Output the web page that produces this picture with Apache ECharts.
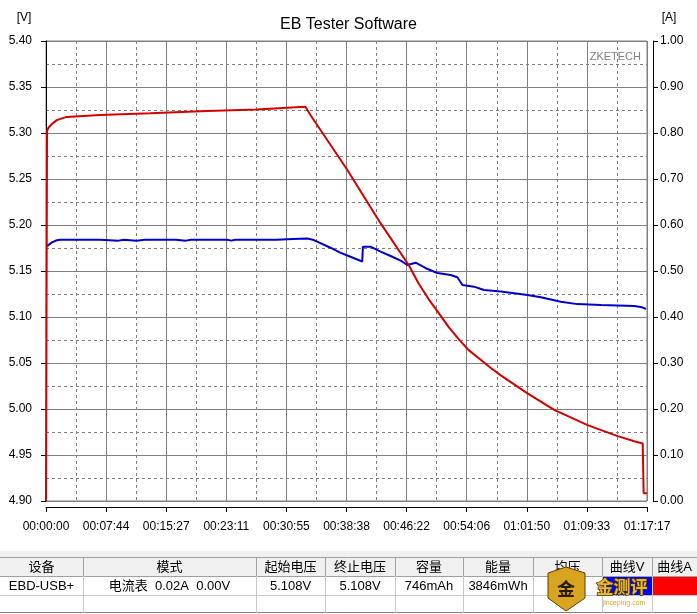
<!DOCTYPE html>
<html><head><meta charset="utf-8">
<script src="https://cdn.jsdelivr.net/npm/echarts@6/dist/echarts.min.js"></script>
<style>html,body{margin:0;padding:0;background:#fff}#c{width:697px;height:614px}</style>
</head><body><div id="c"></div>
<script>
// ---- data ----
const xTickLabels = ['00:00:00','00:07:44','00:15:27','00:23:11','00:30:55','00:38:38','00:46:22','00:54:06','01:01:50','01:09:33','01:17:17'];
const totalSeconds = 4637;
const currentTime = [0, 8, 20, 44, 83, 160, 417, 804, 1242, 1628, 1860, 2002, 2040, 2324, 2581, 2798, 2875, 2952, 3029, 3107, 3184, 3261, 3354, 3432, 3509, 3715, 3921, 4179, 4411, 4539, 4604, 4611, 4637];
const currentA    = [0, 0.805, 0.812, 0.819, 0.828, 0.835, 0.839, 0.843, 0.848, 0.851, 0.855, 0.857, 0.839, 0.720, 0.604, 0.513, 0.473, 0.439, 0.409, 0.378, 0.352, 0.328, 0.307, 0.289, 0.273, 0.234, 0.198, 0.165, 0.141, 0.130, 0.125, 0.017, 0.017];
const voltageTime = [8, 44, 85, 108, 417, 560, 600, 700, 760, 1000, 1080, 1120, 1400, 1430, 1460, 1780, 1860, 1960, 2015, 2060, 2092, 2195, 2270, 2349, 2440, 2445, 2504, 2581, 2659, 2740, 2788, 2852, 2930, 3019, 3122, 3174, 3186, 3213, 3302, 3380, 3509, 3715, 3818, 3972, 4100, 4281, 4539, 4600, 4629];
const voltageV    = [5.177, 5.181, 5.1835, 5.184, 5.184, 5.183, 5.184, 5.183, 5.184, 5.184, 5.183, 5.184, 5.184, 5.183, 5.184, 5.184, 5.1845, 5.185, 5.1853, 5.184, 5.182, 5.1753, 5.170, 5.1655, 5.1603, 5.1764, 5.1764, 5.171, 5.1663, 5.161, 5.1565, 5.159, 5.153, 5.1478, 5.1457, 5.1432, 5.142, 5.1348, 5.133, 5.1293, 5.1277, 5.1239, 5.1214, 5.1166, 5.114, 5.113, 5.112, 5.1105, 5.1087];
const tableHeaders = ['设备','模式','起始电压','终止电压','容量','能量','均压','曲线V','曲线A'];
const tableRow = ['EBD-USB+','电流表  0.02A  0.00V','5.108V','5.108V','746mAh','3846mWh','','',''];
const curveColors = ['', '', '', '', '', '', '', '#0000ff', '#ff0000'];

// ---- chart ----
const xInterval = totalSeconds / 10;
const voltageData = voltageTime.map((t, i) => [t, voltageV[i]]);
const currentData = currentTime.map((t, i) => [t, currentA[i]]);
const tickFont = "'Liberation Sans', Arial, sans-serif";
const gridGray = '#808080';

const colEdges = [0, 83, 256, 325, 395, 463, 533, 602, 652, 697];
const graphics = [];
graphics.push({type:'rect', shape:{x:0,y:551,width:697,height:25}, style:{fill:'#f0f0f0'}, silent:true});
graphics.push({type:'line', shape:{x1:0,y1:557.5,x2:697,y2:557.5}, style:{stroke:'#a0a0a0',lineWidth:1}});
graphics.push({type:'line', shape:{x1:0,y1:576.5,x2:697,y2:576.5}, style:{stroke:'#a0a0a0',lineWidth:1}});
graphics.push({type:'line', shape:{x1:0,y1:595.5,x2:697,y2:595.5}, style:{stroke:'#c8c8c8',lineWidth:1}});
graphics.push({type:'line', shape:{x1:0,y1:612.5,x2:697,y2:612.5}, style:{stroke:'#808080',lineWidth:1}});
for (let i = 0; i < tableHeaders.length; i++) {
  const x0 = colEdges[i], x1 = colEdges[i+1];
  if (curveColors[i]) {
    graphics.push({type:'rect', shape:{x:x0+1,y:577,width:x1-x0-1,height:18}, style:{fill:curveColors[i]}});
  }
  if (i > 0) {
    graphics.push({type:'line', shape:{x1:x0+0.5,y1:557,x2:x0+0.5,y2:576}, style:{stroke:'#a0a0a0',lineWidth:1}});
    graphics.push({type:'line', shape:{x1:x0+0.5,y1:576,x2:x0+0.5,y2:613}, style:{stroke:'#c8c8c8',lineWidth:1}});
  }
  graphics.push({type:'text', x:(x0+x1)/2, y:567, style:{text:tableHeaders[i], fill:'#000', font:"13px 'Liberation Sans', 'Noto Sans CJK SC'", align:'center', verticalAlign:'middle'}});
  if (tableRow[i]) {
    graphics.push({type:'text', x:(x0+x1)/2, y:586, style:{text:tableRow[i], fill:'#000', font:"13px 'Liberation Sans', 'Noto Sans CJK SC'", align:'center', verticalAlign:'middle'}});
  }
}
// watermark approximation
graphics.push({type:'polygon', shape:{points:[[548,573],[566,567],[585,573],[585,598],[566,611],[548,598]]}, style:{fill:'#d9a520', stroke:'#5a3e00', lineWidth:1}});
graphics.push({type:'text', x:566, y:589, style:{text:'金', fill:'#2a1a00', font:"bold 18px 'Noto Sans CJK SC'", align:'center', verticalAlign:'middle'}});
graphics.push({type:'text', x:622, y:587, style:{text:'金测评', fill:'#e8b830', stroke:'#4a3000', lineWidth:1.5, font:"bold 17px 'Noto Sans CJK SC'", align:'center', verticalAlign:'middle'}});
graphics.push({type:'text', x:624, y:603, style:{text:'jinceping.com', fill:'#d9a520', font:"7px 'Liberation Sans'", align:'center', verticalAlign:'middle'}});
// axis unit labels & brand
graphics.push({type:'text', x:24, y:18, style:{text:'[V]', fill:'#000', font:"12px " + tickFont, align:'center', verticalAlign:'middle'}});
graphics.push({type:'text', x:669, y:18, style:{text:'[A]', fill:'#000', font:"12px " + tickFont, align:'center', verticalAlign:'middle'}});
graphics.push({type:'text', x:641, y:57, style:{text:'ZKETECH', fill:'#808080', font:"11px 'Liberation Sans'", align:'right', verticalAlign:'middle'}});

const chart = echarts.init(document.getElementById('c'), null, {renderer:'canvas'});
chart.setOption({
  animation: false,
  backgroundColor: '#fff',
  title: {text:'EB Tester Software', left:'center', top:12, textStyle:{fontSize:16, fontWeight:'normal', color:'#000', fontFamily:"'Liberation Sans', Arial"}},
  grid: {left:46, right:50, top:41, bottom:113, show:true, borderColor:gridGray, borderWidth:1},
  xAxis: {
    type:'value', min:0, max:totalSeconds, interval:xInterval, offset:6,
    axisLine:{show:true, onZero:false, lineStyle:{color:'#000', width:1}},
    axisTick:{show:true, length:5, lineStyle:{color:'#000'}},
    axisLabel:{margin:14, color:'#000', fontSize:12, fontFamily:tickFont, showMinLabel:true, showMaxLabel:true,
      formatter:(v) => xTickLabels[Math.round(v / xInterval)] || ''},
    splitLine:{show:true, lineStyle:{color:gridGray, width:1}},
    minorTick:{show:false, splitNumber:2},
    minorSplitLine:{show:true, lineStyle:{color:gridGray, width:1, type:[3,3]}}
  },
  yAxis: [{
    type:'value', min:4.9, max:5.4, interval:0.05, offset:5, position:'left',
    axisLine:{show:true, lineStyle:{color:'#000'}},
    axisTick:{show:true, length:5, lineStyle:{color:'#000'}},
    axisLabel:{margin:9, color:'#000', fontSize:12, fontFamily:tickFont, formatter:(v) => v.toFixed(2)},
    splitLine:{show:true, lineStyle:{color:gridGray, width:1}},
    minorTick:{show:false, splitNumber:2},
    minorSplitLine:{show:true, lineStyle:{color:gridGray, width:1, type:[3,3]}}
  },{
    type:'value', min:0, max:1, interval:0.1, offset:6, position:'right',
    axisLine:{show:true, lineStyle:{color:'#000'}},
    axisTick:{show:true, length:5, lineStyle:{color:'#000'}},
    axisLabel:{margin:7, color:'#000', fontSize:12, fontFamily:tickFont, formatter:(v) => v.toFixed(2)},
    splitLine:{show:false}
  }],
  series: [
    {type:'line', name:'V', yAxisIndex:0, data:voltageData, showSymbol:false, symbol:'none', lineStyle:{color:'#0000cc', width:2}, z:2},
    {type:'line', name:'A', yAxisIndex:1, data:currentData, showSymbol:false, symbol:'none', lineStyle:{color:'#d40000', width:2}, z:3}
  ],
  graphic: graphics
});
</script></body></html>
